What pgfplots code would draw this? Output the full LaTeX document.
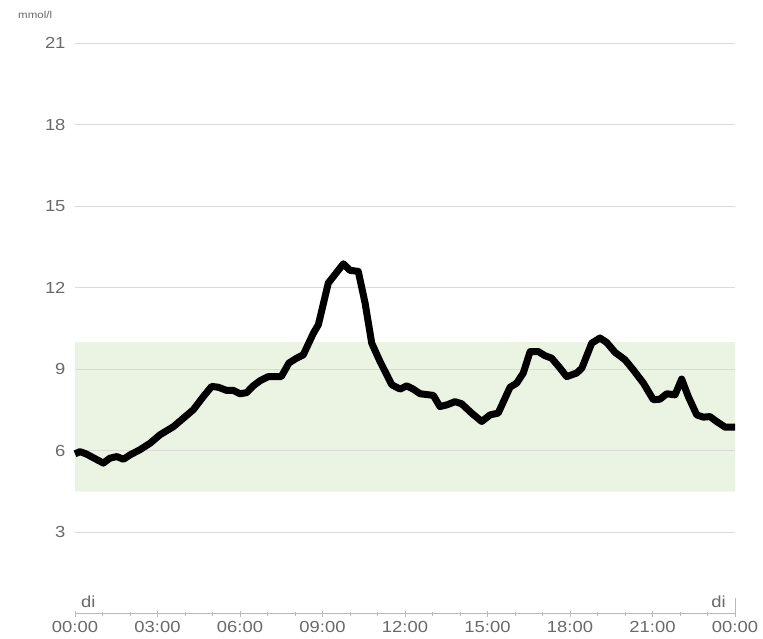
\documentclass[border=0pt]{standalone}
\usepackage{fontspec}
\setmainfont[FakeStretch=1.15]{Liberation Sans}
\usepackage{pgfplots}
\pgfplotsset{compat=1.18}
\definecolor{band}{RGB}{235,243,226}
\definecolor{gridc}{RGB}{218,218,218}
\definecolor{labc}{RGB}{105,105,105}
\definecolor{tickc}{RGB}{185,185,185}
\begin{document}
\begin{tikzpicture}
\begin{axis}[
  set layers,
  scale only axis,
  width=660pt, height=571pt,
  xmin=0, xmax=24, ymin=0, ymax=21,
  axis x line*=bottom,
  axis y line*=left,
  y axis line style={draw=none},
  x axis line style={tickc, line width=1pt},
  xtick={0,3,...,24},
  xticklabels={00:00,03:00,06:00,09:00,12:00,15:00,18:00,21:00,00:00},
  minor xtick={1,2,4,5,7,8,10,11,13,14,16,17,19,20,22,23},
  tick align=center,
  major tick length=6pt,
  minor tick length=4pt,
  every x tick/.style={tickc, line width=1pt},
  ytick={3,6,...,21},
  ymajorgrids,
  grid style={gridc, line width=0.8pt},
  every y tick/.style={draw=none},
  yticklabel style={labc, font=\fontsize{16}{18}\selectfont, xshift=-3pt},
  xticklabel style={labc, font=\fontsize{16}{18}\selectfont, yshift=-1pt},
  /pgf/number format/assume math mode=true,
  clip=false,
]
\addplot[fill=band, draw=none, on layer=axis background] coordinates {(0,4.5) (24,4.5) (24,10) (0,10) (0,4.5)};
\addplot[black, line width=7pt, line join=round, line cap=butt] coordinates {
(0,5.89) (0.18,5.97) (0.4,5.89) (1.03,5.55) (1.27,5.73) (1.52,5.79) (1.76,5.69)
(2.0,5.85) (2.36,6.04) (2.73,6.28) (3.09,6.59) (3.58,6.89) (3.94,7.20) (4.3,7.51)
(4.67,8.0) (4.97,8.37) (5.21,8.34) (5.52,8.22) (5.76,8.22) (6.0,8.10) (6.24,8.14)
(6.48,8.39) (6.73,8.58) (7.03,8.73) (7.5,8.73) (7.78,9.23) (8.06,9.41) (8.3,9.53)
(8.67,10.33) (8.85,10.64) (9.21,12.17) (9.45,12.48) (9.76,12.88) (10.0,12.64)
(10.3,12.60) (10.55,11.43) (10.79,9.96) (11.09,9.29) (11.52,8.43) (11.82,8.27)
(12.06,8.39) (12.3,8.27) (12.55,8.10) (13.03,8.04) (13.27,7.63) (13.52,7.69)
(13.82,7.81) (14.06,7.73) (14.42,7.39) (14.79,7.08) (15.09,7.32) (15.39,7.39)
(15.82,8.34) (16.06,8.49) (16.3,8.86) (16.55,9.65) (16.85,9.65) (17.09,9.50)
(17.33,9.41) (17.64,9.04) (17.88,8.73) (18.24,8.86) (18.43,9.04) (18.79,9.96)
(19.09,10.15) (19.33,9.99) (19.64,9.62) (20.0,9.35) (20.3,8.98) (20.67,8.49)
(21.03,7.88) (21.27,7.90) (21.52,8.10) (21.82,8.06) (22.06,8.64) (22.3,8.0)
(22.61,7.32) (22.85,7.24) (23.09,7.26) (23.33,7.08) (23.64,6.87) (24.0,6.87)
};
\draw[tickc, line width=1pt] (axis cs:24,0) -- ++(0pt,16pt);
\end{axis}
\node[anchor=west, labc, font=\fontsize{10}{12}\selectfont, inner sep=0pt] at (-57pt,599pt) {mmol/l};
\node[anchor=west, labc, font=\fontsize{16}{18}\selectfont, inner sep=0pt] at (6pt,12pt) {di};
\node[anchor=east, labc, font=\fontsize{16}{18}\selectfont, inner sep=0pt] at (651pt,12pt) {di};
\path (-75pt,-25pt) rectangle (688pt,614pt);
\end{tikzpicture}
\end{document}
